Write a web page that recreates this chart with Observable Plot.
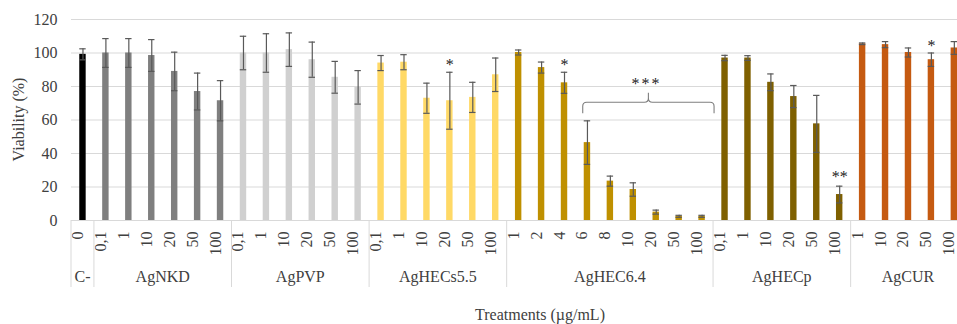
<!DOCTYPE html>
<html>
<head>
<meta charset="utf-8">
<script src="https://cdn.jsdelivr.net/npm/d3@7"></script>
<script src="https://cdn.jsdelivr.net/npm/@observablehq/plot@0.6"></script>
<style>
  body { margin: 0; background: #fff; }
  #chart svg { display: block; }
  #caption {
    width: 957px; box-sizing: border-box; padding-left: 123px;
    height: 24px; line-height: 30px; text-align: center;
    font-family: "Liberation Serif", "DejaVu Serif", serif; font-size: 16px; color: #404040;
  }
</style>
</head>
<body>
<div id="chart"></div>
<div id="caption">Treatments (µg/mL)</div>
<script>
// ---- data ----
const groups = ["C-", "AgNKD", "AgPVP", "AgHECs5.5", "AgHEC6.4", "AgHECp", "AgCUR"];
const groupColors = ["#000000", "#7f7f7f", "#d0d0d0", "#ffd966", "#bf9000", "#7f6000", "#c55a11"];
const concentrations = [
  ["0"],
  ["0,1", "1", "10", "20", "50", "100"],
  ["0,1", "1", "10", "20", "50", "100"],
  ["0,1", "1", "10", "20", "50", "100"],
  ["1", "2", "4", "6", "8", "10", "20", "50", "100"],
  ["0,1", "1", "10", "20", "50", "100"],
  ["1", "10", "20", "50", "100"]
];
const viability = [
  [99.2],
  [100, 100, 98.5, 89, 77, 71.5],
  [100, 100, 102, 96, 85.5, 79.5],
  [94, 94.5, 73, 71.5, 73.5, 87],
  [100.3, 91.3, 82.2, 46.5, 23.5, 18.5, 5, 2.5, 2.5],
  [97, 97, 82.5, 74, 57.7, 15.5],
  [105.5, 105, 100.3, 96, 103]
];
const errors = [
  [3.3],
  [8.6, 8.6, 9.5, 11.5, 11, 12],
  [10, 11.5, 10, 10.5, 9.5, 10],
  [4.5, 4.5, 9, 17, 9, 10],
  [1.5, 3.3, 6.3, 13, 3, 4, 1.2, 0.6, 0.6],
  [1.6, 1.4, 5, 6.6, 17, 5],
  [0.5, 1.8, 2.7, 4, 3.8]
];
const yTicks = [0, 20, 40, 60, 80, 100, 120];
// significance marks: group, concentration, label, label height (value units)
const sigGroups = ["AgHECs5.5", "AgHEC6.4", "AgHECp", "AgCUR"];
const sigConcs  = ["20", "4", "100", "50"];
const sigLabels = ["*", "*", "**", "*"];
const sigY      = [93, 93, 26, 104];
// bracket over AgHEC6.4 6..100
const bracketGroup = "AgHEC6.4";
const bracketFrom = "6";
const bracketTo = "100";
const bracketY = 70.3;
const bracketLabel = "***";

// ---- build rows ----
const keyOf = (g, c) => g + "|" + c;
const rows = [];
groups.forEach((g, gi) => concentrations[gi].forEach((c, ci) => {
  rows.push({group: g, conc: c, key: keyOf(g, c), v: viability[gi][ci], e: errors[gi][ci]});
}));
const keys = rows.map(d => d.key);
const sig = sigGroups.map((g, i) => ({key: keyOf(g, sigConcs[i]), label: sigLabels[i], y: sigY[i]}));

const textColor = "#404040";
const font = "Liberation Serif, DejaVu Serif, serif";

function decorations(index, scales, values, dimensions) {
  const x = scales.x, y = scales.y;
  const bw = x.bandwidth();
  const step = x.step ? x.step() : bw / 0.28;
  const cx = k => x(k) + bw / 2;
  const g = d3.create("svg:g").attr("font-family", font).attr("font-size", 16).attr("fill", textColor);
  const y0 = y(0);
  groups.forEach((grp, gi) => {
    const cs = concentrations[gi];
    const left = cx(keyOf(grp, cs[0])) - step / 2;
    const right = cx(keyOf(grp, cs[cs.length - 1])) + step / 2;
    g.append("line").attr("x1", left).attr("x2", left).attr("y1", y0).attr("y2", y0 + 67)
      .attr("stroke", "#d9d9d9").attr("stroke-width", 1);
    g.append("text").attr("x", (left + right) / 2).attr("y", y0 + 62).attr("text-anchor", "middle").text(grp);
  });
  // bracket
  const bl = cx(keyOf(bracketGroup, bracketFrom)) - bw / 2 - 1;
  const br = cx(keyOf(bracketGroup, bracketTo)) + step / 2 + 1;
  const by = y(bracketY);
  const mid = (bl + br) / 2;
  const r = 4;
  const path = `M${bl},${by + 11} L${bl},${by + r} Q${bl},${by} ${bl + r},${by} L${mid - r},${by} Q${mid},${by} ${mid},${by - r} L${mid},${by - 9.5} M${mid},${by - r} Q${mid},${by} ${mid + r},${by} L${br - r},${by} Q${br},${by} ${br},${by + r} L${br},${by + 11}`;
  g.append("path").attr("d", path).attr("fill", "none").attr("stroke", "#7f7f7f").attr("stroke-width", 1.1);
  g.append("text").attr("x", mid - 2).attr("y", by - 13).attr("text-anchor", "middle").attr("fill", "#222")
    .attr("letter-spacing", 2).text(bracketLabel);
  // y label
  g.append("text").attr("transform", `translate(19,${(y(0) + y(120)) / 2}) rotate(-90)`)
    .attr("text-anchor", "middle").attr("dy", "0.32em").text("Viability (%)");
  return g.node();
}

const chart = Plot.plot({
  width: 957,
  height: 300,
  marginTop: 19,
  marginBottom: 80,
  marginLeft: 71,
  marginRight: 0,
  style: {fontFamily: font, fontSize: "16px", color: textColor, background: "#fff", overflow: "visible"},
  x: {domain: keys, range: [71, 965.3], paddingInner: 0.72, paddingOuter: 0.36, align: 0.5, axis: null},
  y: {domain: [0, 120], ticks: yTicks, tickSize: 0, tickPadding: 14, label: null},
  color: {domain: groups, range: groupColors},
  marks: [
    Plot.ruleY(yTicks, {stroke: "#d9d9d9", strokeWidth: 1}),
    Plot.barY(rows, {x: "key", y: "v", fill: "group"}),
    Plot.ruleX(rows, {x: "key", y1: d => d.v - d.e, y2: d => d.v + d.e, stroke: "#595959", strokeWidth: 1.2}),
    Plot.tickY(rows, {x: "key", y: d => d.v + d.e, stroke: "#595959", strokeWidth: 1.2}),
    Plot.tickY(rows, {x: "key", y: d => d.v - d.e, stroke: "#595959", strokeWidth: 1.2}),
    Plot.text(rows, {x: "key", text: "conc", frameAnchor: "bottom", rotate: -90, textAnchor: "end", dy: 11, fill: textColor, fontSize: 16, fontFamily: font}),
    Plot.text(sig, {x: "key", y: "y", text: "label", fill: "#222", fontSize: 16, fontFamily: font}),
    decorations
  ]
});
chart.querySelectorAll("text").forEach(t => { if (!t.getAttribute("font-family")) t.setAttribute("font-family", font); });
document.getElementById("chart").appendChild(chart);
</script>
</body>
</html>
